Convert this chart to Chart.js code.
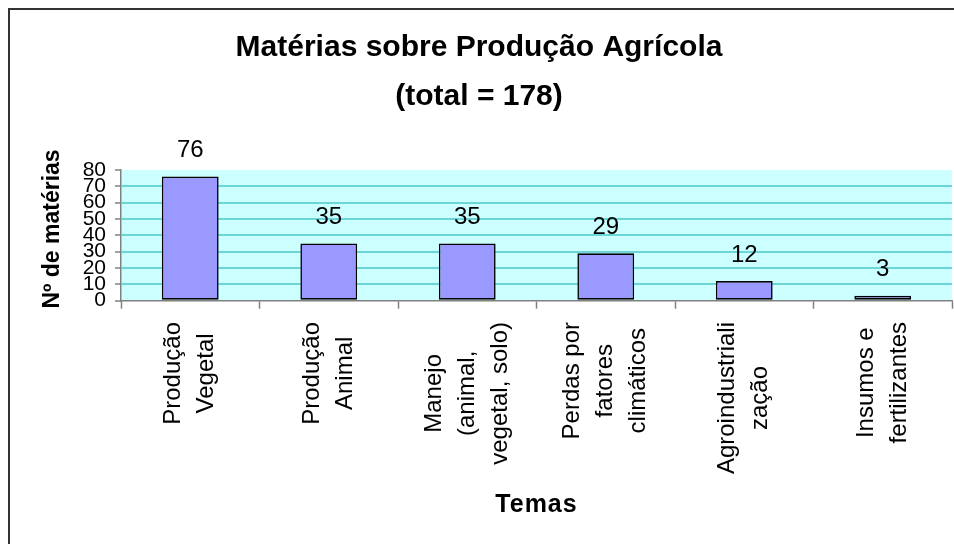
<!DOCTYPE html>
<html>
<head>
<meta charset="utf-8">
<script src="https://cdn.jsdelivr.net/npm/chart.js@4.4.0/dist/chart.umd.min.js"></script>
<style>
  html, body { margin: 0; padding: 0; background: #fff; }
  #wrap { width: 954px; height: 544px; }
</style>
</head>
<body>
<div id="wrap"><canvas id="chart" width="954" height="544"></canvas></div>
<script>
// chart data
const categories = [
  ["Produção", "Vegetal"],
  ["Produção", "Animal"],
  ["Manejo", "(animal,", "vegetal, solo)"],
  ["Perdas por", "fatores", "climáticos"],
  ["Agroindustriali", "zação"],
  ["Insumos e", "fertilizantes"]
];
const counts = [76, 35, 35, 29, 12, 3];
const yMin = 0, yMax = 80, yStep = 10;
const titleLines = ["Matérias sobre Produção Agrícola", "(total = 178)"];
const yTitle = "Nº de matérias";
const xTitle = "Temas";

const FONT = '"Liberation Sans", Arial, sans-serif';

// background, frame and all the free text drawn on the canvas
const excelLook = {
  id: "excelLook",
  beforeDraw(chart) {
    const { ctx, chartArea: a } = chart;
    ctx.save();
    ctx.fillStyle = "#fff";
    ctx.fillRect(0, 0, chart.width, chart.height);
    ctx.fillStyle = "#CCFFFF";
    ctx.fillRect(a.left, a.top, a.right - a.left, a.bottom - a.top);
    // outer frame (only left and top are visible in the crop)
    ctx.strokeStyle = "#333";
    ctx.lineWidth = 2;
    ctx.beginPath();
    ctx.moveTo(9, chart.height);
    ctx.lineTo(9, 9);
    ctx.lineTo(chart.width, 9);
    ctx.stroke();
    ctx.restore();
  },
  afterDraw(chart) {
    const { ctx } = chart;
    const xs = chart.scales.x;
    ctx.save();
    ctx.fillStyle = "#000";
    ctx.textAlign = "center";
    ctx.textBaseline = "middle";

    // title
    ctx.font = "bold 30px " + FONT;
    ctx.fillText(titleLines[0], 479, 48);
    ctx.fillText(titleLines[1], 479, 97);

    // value labels above bars
    ctx.font = "24px " + FONT;
    chart.getDatasetMeta(0).data.forEach((bar, i) => {
      ctx.fillText(String(counts[i]), bar.x, bar.y - 26);
    });

    // category labels, rotated, lines centred on each other
    ctx.font = "24px " + FONT;
    categories.forEach((lines, i) => {
      const cx = xs.getPixelForValue(i);
      const maxW = Math.max(...lines.map(l => ctx.measureText(l).width));
      const cy = 322 + maxW / 2;
      lines.forEach((line, j) => {
        const lx = cx + (j - (lines.length - 1) / 2) * 33;
        ctx.save();
        ctx.translate(lx, cy);
        ctx.rotate(-Math.PI / 2);
        ctx.fillText(line, 0, 0);
        ctx.restore();
      });
    });

    // axis titles
    ctx.font = "bold 25px " + FONT;
    ctx.letterSpacing = "1px";
    ctx.fillText(xTitle, (chart.chartArea.left + chart.chartArea.right) / 2, 505);
    ctx.letterSpacing = "0px";

    ctx.font = "bold 23px " + FONT;
    ctx.save();
    ctx.translate(53, 229);
    ctx.rotate(-Math.PI / 2);
    ctx.fillText(yTitle, 0, 0);
    ctx.restore();

    ctx.restore();
  }
};

new Chart(document.getElementById("chart"), {
  type: "bar",
  data: {
    labels: categories,
    datasets: [{
      data: counts,
      backgroundColor: "#9999FF",
      borderColor: "#000",
      borderWidth: 1.6,
      borderSkipped: false,
      categoryPercentage: 1,
      barPercentage: 0.41
    }]
  },
  options: {
    responsive: false,
    animation: false,
    devicePixelRatio: 1,
    layout: { padding: { top: 170, left: 0, right: 2, bottom: 0 } },
    plugins: {
      legend: { display: false },
      title: { display: false },
      tooltip: { enabled: false }
    },
    scales: {
      x: {
        type: "category",
        afterFit: s => { s.height = 243.3; },
        ticks: { display: false },
        grid: {
          offset: true,
          drawOnChartArea: false,
          drawTicks: true,
          tickLength: 8,
          tickColor: "#808080",
          tickWidth: 1.5
        },
        border: { color: "#808080", width: 1.5 }
      },
      y: {
        min: yMin,
        max: yMax,
        afterFit: s => { s.width = 121; },
        ticks: {
          stepSize: yStep,
          autoSkip: false,
          color: "#000",
          padding: 9,
          font: { family: FONT, size: 21 }
        },
        grid: {
          color: c => (c.tick && (c.tick.value === yMin || c.tick.value === yMax)) ? "rgba(0,0,0,0)" : "#6CD6D6",
          lineWidth: 2,
          tickLength: 6,
          tickColor: "#808080",
          tickWidth: 1.5
        },
        border: { color: "#808080", width: 1.5 }
      }
    }
  },
  plugins: [excelLook]
});
</script>
</body>
</html>
